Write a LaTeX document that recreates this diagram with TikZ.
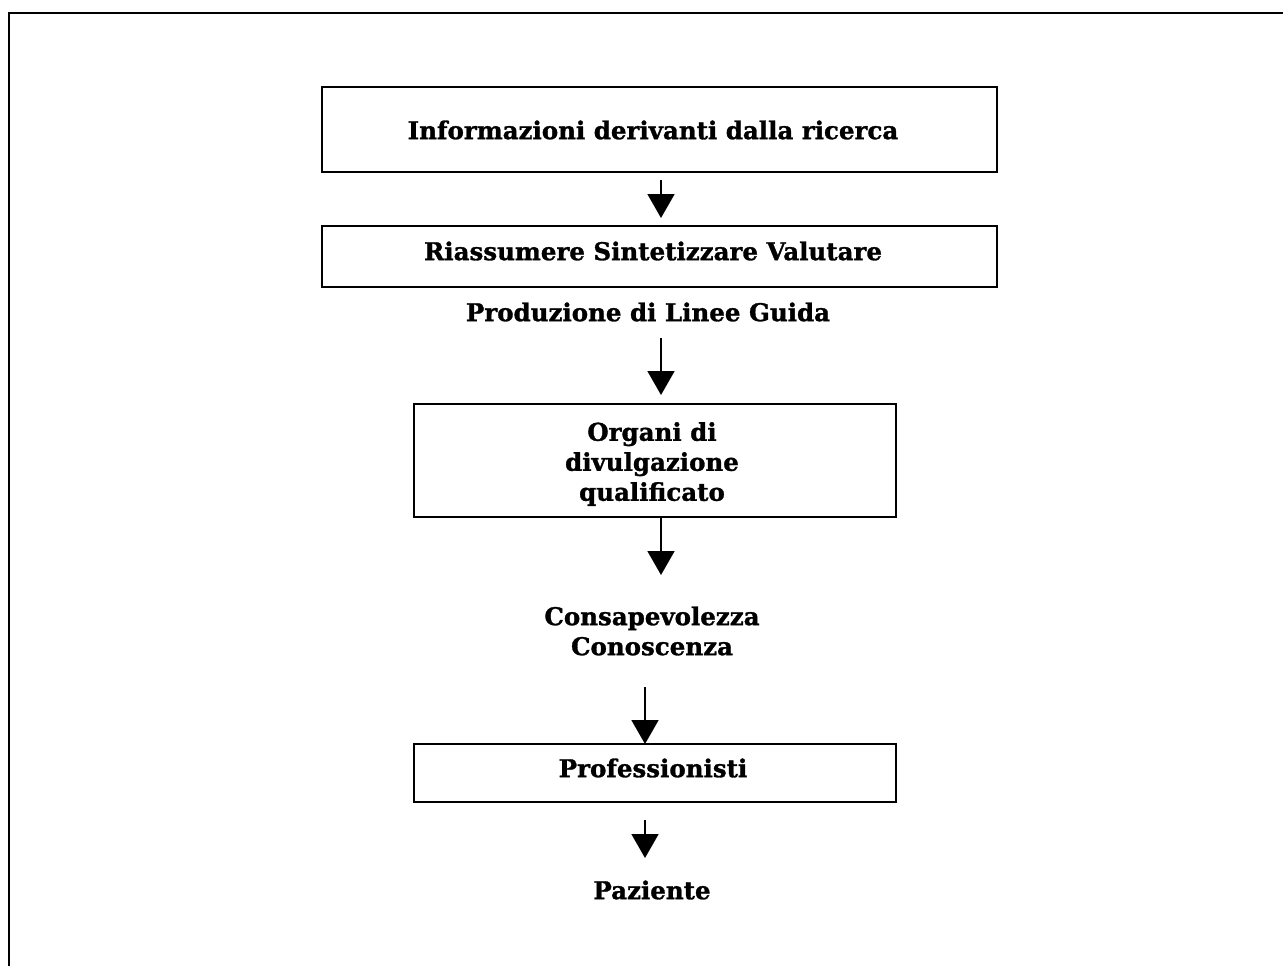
\documentclass[tikz,border=0pt]{standalone}
\usepackage{fontspec}
\setmainfont{DejaVu Serif}[BoldFeatures={FakeBold=1.2}]
\usetikzlibrary{arrows.meta}
\tikzset{
  box/.style={draw, line width=1.8pt, inner sep=0pt},
  lbl/.style={align=center, inner sep=0pt, font=\bfseries\fontsize{24.5}{30}\selectfont},
  arr/.style={line width=1.8pt, -{Triangle[length=24pt,width=27pt]}},
}
\begin{document}
\begin{tikzpicture}[x=1pt,y=-1pt]
\useasboundingbox (0,0) rectangle (1283,966);
\draw[line width=1.8pt] (9,966) -- (9,13) -- (1290,13);
\node[box, minimum width=675pt, minimum height=85pt] (b1) at (659.5,129.5) {};
\node[lbl] (l1) at (653,130) {Informazioni derivanti dalla ricerca};
\node[box, minimum width=675pt, minimum height=61pt] (b2) at (659.5,256.5) {};
\node[lbl] (l2) at (653,251) {Riassumere Sintetizzare Valutare};
\node[lbl] (prod) at (648,312) {Produzione di Linee Guida};
\node[box, minimum width=482pt, minimum height=113pt] (b3) at (655,460.5) {};
\node[lbl] (l3) at (652,464) {Organi di\\divulgazione\\qualificato};
\node[lbl] (cons) at (652,631) {Consapevolezza\\Conoscenza};
\node[box, minimum width=482pt, minimum height=58pt] (b4) at (655,773) {};
\node[lbl] (l4) at (653,768) {Professionisti};
\node[lbl] (paz) at (652,890) {Paziente};
\coordinate (s1) at (661,180); \coordinate (t1) at (661,218);
\coordinate (s2) at (661,338); \coordinate (t2) at (661,395);
\coordinate (s3) at (661,517); \coordinate (t3) at (661,575);
\coordinate (s4) at (645,687); \coordinate (t4) at (645,744);
\coordinate (s5) at (645,820); \coordinate (t5) at (645,858);
\draw[arr] (s1) -- (t1);
\draw[arr] (s2) -- (t2);
\draw[arr] (s3) -- (t3);
\draw[arr] (s4) -- (t4);
\draw[arr] (s5) -- (t5);
\end{tikzpicture}
\end{document}
